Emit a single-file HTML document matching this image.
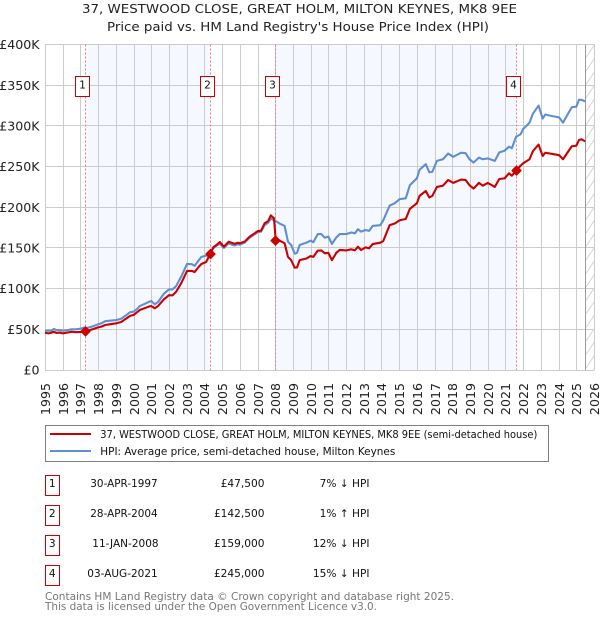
<!DOCTYPE html>
<html lang="en">
<head>
<meta charset="utf-8">
<title>37, Westwood Close price paid vs HPI</title>
<style>
html,body{margin:0;padding:0;background:#fff;}
svg{display:block;font-family:"DejaVu Sans","Liberation Sans",sans-serif;}
</style>
</head>
<body>
<svg id="chart" xmlns="http://www.w3.org/2000/svg" width="600" height="620" viewBox="0 0 600 620">
  <defs>
    <pattern id="hatch" patternUnits="userSpaceOnUse" width="9" height="13.5" patternTransform="translate(586,44)">
      <path d="M-1,15 L10,-1.5" stroke="#d4d4d4" stroke-width="1" fill="none"/>
    </pattern>
  </defs>
  <text x="299.5" y="13" text-anchor="middle" font-size="12.6" fill="#222" textLength="435" lengthAdjust="spacingAndGlyphs">37, WESTWOOD CLOSE, GREAT HOLM, MILTON KEYNES, MK8 9EE</text>
  <text x="298" y="31" text-anchor="middle" font-size="12.6" fill="#222" textLength="382" lengthAdjust="spacingAndGlyphs">Price paid vs. HM Land Registry's House Price Index (HPI)</text>
  <g id="bands"></g>
  <g id="grid"></g>
  <rect x="586" y="44.5" width="8.5" height="325.5" fill="url(#hatch)"/>
  <line x1="585.5" x2="585.5" y1="44.5" y2="370" stroke="#999" stroke-width="1"/>
  <g id="ylabels"></g>
  <g id="xlabels"></g>
  <g id="eventlines"></g>
  <g id="series"></g>
  <g id="markers"></g>
  <g id="eventboxes"></g>

  <g>
    <rect x="45.5" y="425.5" width="503" height="36" fill="#fff" stroke="#808080" stroke-width="1"/>
    <line x1="50" x2="91" y1="434" y2="434" stroke="#cc0000" stroke-width="2"/>
    <text x="100.3" y="438" font-size="11" fill="#111" textLength="437" lengthAdjust="spacingAndGlyphs">37, WESTWOOD CLOSE, GREAT HOLM, MILTON KEYNES, MK8 9EE (semi-detached house)</text>
    <line x1="50" x2="91" y1="451" y2="451" stroke="#5f8fd3" stroke-width="2"/>
    <text x="100.3" y="455" font-size="11" fill="#111" textLength="295" lengthAdjust="spacingAndGlyphs">HPI: Average price, semi-detached house, Milton Keynes</text>
  </g>

  <g font-size="10.6" fill="#111">
    <g>
      <rect x="45.5" y="475.5" width="14" height="20" fill="#fff" stroke="#cc0000" stroke-width="1"/>
      <text x="52.2" y="487" text-anchor="middle">1</text>
      <text x="90.3" y="487" textLength="67.4" lengthAdjust="spacingAndGlyphs">30-APR-1997</text>
      <text x="264.5" y="487" text-anchor="end">£47,500</text>
      <text x="369.5" y="487" text-anchor="end">7% ↓ HPI</text>
    </g>
    <g>
      <rect x="45.5" y="505.5" width="14" height="20" fill="#fff" stroke="#cc0000" stroke-width="1"/>
      <text x="52.2" y="517" text-anchor="middle">2</text>
      <text x="90.3" y="517" textLength="67.4" lengthAdjust="spacingAndGlyphs">28-APR-2004</text>
      <text x="264.5" y="517" text-anchor="end">£142,500</text>
      <text x="369.5" y="517" text-anchor="end">1% ↑ HPI</text>
    </g>
    <g>
      <rect x="45.5" y="535.5" width="14" height="20" fill="#fff" stroke="#cc0000" stroke-width="1"/>
      <text x="52.2" y="547" text-anchor="middle">3</text>
      <text x="92.3" y="547" textLength="66.3" lengthAdjust="spacingAndGlyphs">11-JAN-2008</text>
      <text x="264.5" y="547" text-anchor="end">£159,000</text>
      <text x="369.5" y="547" text-anchor="end">12% ↓ HPI</text>
    </g>
    <g>
      <rect x="45.5" y="565.5" width="14" height="20" fill="#fff" stroke="#cc0000" stroke-width="1"/>
      <text x="52.2" y="577" text-anchor="middle">4</text>
      <text x="87.3" y="577" textLength="70.4" lengthAdjust="spacingAndGlyphs">03-AUG-2021</text>
      <text x="264.5" y="577" text-anchor="end">£245,000</text>
      <text x="369.5" y="577" text-anchor="end">15% ↓ HPI</text>
    </g>
  </g>

  <text x="45" y="600" font-size="11" fill="#777" textLength="409" lengthAdjust="spacingAndGlyphs">Contains HM Land Registry data © Crown copyright and database right 2025.</text>
  <text x="45" y="610" font-size="11" fill="#777" textLength="332" lengthAdjust="spacingAndGlyphs">This data is licensed under the Open Government Licence v3.0.</text>
</svg>

<script>
const xTickYears = [1995,1996,1997,1998,1999,2000,2001,2002,2003,2004,2005,2006,2007,2008,2009,2010,2011,2012,2013,2014,2015,2016,2017,2018,2019,2020,2021,2022,2023,2024,2025,2026];
const yTickValues = [0,50,100,150,200,250,300,350,400];
const yTickLabels = ["£0","£50K","£100K","£150K","£200K","£250K","£300K","£350K","£400K"];

const hpiDates = [1995.0,1995.2,1995.35,1995.5,1995.65,1995.85,1996.0,1996.25,1996.5,1996.75,1997.05,1997.2,1997.33,1997.6,1998.0,1998.2,1998.4,1998.6,1999.03,1999.3,1999.6,1999.8,2000.0,2000.2,2000.35,2000.7,2000.85,2001.0,2001.2,2001.4,2001.72,2002.0,2002.2,2002.4,2002.7,2003.02,2003.3,2003.45,2003.65,2003.83,2004.1,2004.32,2004.47,2004.7,2004.87,2005.1,2005.37,2005.7,2005.9,2006.0,2006.27,2006.55,2007.02,2007.2,2007.4,2007.6,2007.75,2007.93,2008.03,2008.25,2008.53,2008.72,2008.9,2009.1,2009.23,2009.38,2009.76,2010.0,2010.15,2010.4,2010.6,2010.8,2011.0,2011.2,2011.45,2011.64,2012.0,2012.3,2012.5,2012.67,2012.85,2013.1,2013.3,2013.5,2013.93,2014.1,2014.46,2014.75,2015.03,2015.37,2015.6,2016.0,2016.15,2016.5,2016.7,2016.87,2017.13,2017.47,2017.76,2018.05,2018.5,2018.75,2018.97,2019.2,2019.5,2019.72,2020.0,2020.4,2020.65,2020.95,2021.2,2021.36,2021.6,2021.85,2022.0,2022.36,2022.55,2022.87,2023.1,2023.25,2023.65,2024.03,2024.25,2024.6,2024.75,2025.0,2025.15,2025.3,2025.5];
const hpiValues = [48,48.5,48,50.4,49,49,48.3,49,50,50,51,52,51.5,53,56,57.5,60,60.5,61.4,63,67.6,71,71.7,75,78.6,82,83.5,84.8,80.7,84,94,99,99,103,115,130.3,130,128,134,139,140.5,141,149,153,155,150,155.5,153,154.5,154,156.5,162.5,169.5,170,178,181,186,184,183,180,177,157.7,153.6,143,144,153.6,156.5,159,157,167,167,162.6,164,155,163,167,167,169,168,173,170,172,171,177,178,184,202,205,210,211,227,235.6,246,253,243,243.5,257,259,266,262,267,266.5,259,255,261,259,260,257,267.5,269.5,274.5,272.5,286.7,289.6,296,304,315,325,309,314,312,310.5,304,317.5,323,323.6,332,332,330];

const priceDates = [1995.0,1995.2,1995.35,1995.5,1995.65,1995.85,1996.0,1996.25,1996.5,1996.75,1997.05,1997.2,1997.33,1997.6,1998.0,1998.2,1998.4,1998.6,1999.03,1999.3,1999.6,1999.8,2000.0,2000.2,2000.35,2000.7,2000.85,2001.0,2001.2,2001.4,2001.72,2002.0,2002.2,2002.4,2002.7,2003.02,2003.3,2003.45,2003.65,2003.83,2004.1,2004.32,2004.5,2004.7,2004.87,2005.1,2005.37,2005.7,2005.9,2006.0,2006.27,2006.55,2007.02,2007.2,2007.4,2007.6,2007.75,2007.93,2008.03,2008.25,2008.53,2008.72,2008.9,2009.1,2009.23,2009.38,2009.76,2010.0,2010.15,2010.4,2010.6,2010.8,2011.0,2011.2,2011.45,2011.64,2012.0,2012.3,2012.5,2012.67,2012.85,2013.1,2013.3,2013.5,2013.93,2014.1,2014.46,2014.75,2015.03,2015.37,2015.6,2016.0,2016.15,2016.5,2016.7,2016.87,2017.13,2017.47,2017.76,2018.05,2018.5,2018.75,2018.97,2019.2,2019.5,2019.72,2020.0,2020.4,2020.65,2020.95,2021.2,2021.36,2021.6,2021.85,2022.0,2022.36,2022.55,2022.87,2023.1,2023.25,2023.65,2024.03,2024.25,2024.6,2024.75,2025.0,2025.15,2025.3,2025.5];
const priceValues = [45.8,45,45.8,46.8,45.6,46,45,46,47,46.5,46.8,47.8,47.5,49.5,52.4,53.5,55.3,56,57.4,59,63.5,66.5,67.6,71,73.7,76.6,77.8,78.6,75.8,79,87,92,91.7,96,107,121.7,121.7,120.4,126,130.3,132.7,142.5,150.7,154,157.3,151.5,157.7,155.2,156.4,155.7,157.7,163.8,170.8,171.2,180.3,183,190,186.4,159,159,155.7,139,135,125.8,126,135,137,140,139,146.7,147,143.4,144,135,144,147.5,147,148.3,147,151.5,147.5,150.7,149.5,154.8,156.5,158.5,178,180,184,185.6,198,205,214,220,212,214,225,226.5,233.5,230,234,233.5,227,223,230,226.5,230,225,234.7,235.5,241.7,238.8,245,251,254,259,269,277,263,267,265.5,264,259,270.4,275,275.7,282.6,283.5,281];

const saleDates = [1997.29,2004.32,2008.0,2021.6];
const salePrices = [47.5,142.5,159,245];
const saleLabels = ["1","2","3","4"];

const NS = "http://www.w3.org/2000/svg";
const plotTop = 44.5, plotBottom = 370, plotLeft = 45, plotRight = 594.5;
function xScale(t){ return 45 + 17.71 * (t - 1995); }
function yScale(v){ return 370 - 0.8137 * v; }
function make(tag, attrs, parent){
  const el = document.createElementNS(NS, tag);
  for (const k in attrs) el.setAttribute(k, attrs[k]);
  parent.appendChild(el);
  return el;
}
const eventX = saleDates.map(function(d){ return Math.floor(xScale(d)) + 0.5; });

const bandsG = document.getElementById("bands");
const bandStarts = [eventX[0], eventX[2]];
const bandEnds = [eventX[1], eventX[3]];
bandStarts.forEach(function(s, i){
  const band = make("rect", {x: s, y: plotTop, width: bandEnds[i] - s, height: plotBottom - plotTop, fill: "#f5f8ff"}, bandsG);
  
  
});

const gridG = document.getElementById("grid");
xTickYears.forEach(function(y){
  const px = Math.round(xScale(y)) + 0.5;
  const line = make("line", {x1: px, x2: px, y1: plotTop, y2: plotBottom, stroke: "#cccccc", "stroke-width": 1}, gridG);
  
  
});
yTickValues.forEach(function(v){
  const py = Math.round(yScale(v) - 0.5) + 0.5;
  const line = make("line", {x1: plotLeft, x2: plotRight, y1: py, y2: py, stroke: "#cccccc", "stroke-width": 1}, gridG);
  
  
});

const yLabelG = document.getElementById("ylabels");
yTickValues.forEach(function(v, i){
  const t = make("text", {x: 39.5, y: yScale(v) + 4.6, "text-anchor": "end", "font-size": 12.6, fill: "#222"}, yLabelG);
  t.textContent = yTickLabels[i];
  
  
});

const xLabelG = document.getElementById("xlabels");
xTickYears.forEach(function(y){
  const px = Math.round(xScale(y)) + 5;
  const t = make("text", {transform: "translate(" + px + ",383) rotate(-90)", "text-anchor": "end", "font-size": 12.6, fill: "#222"}, xLabelG);
  t.textContent = String(y);
  
  
});

const eventLineG = document.getElementById("eventlines");
eventX.forEach(function(px){
  const line = make("line", {x1: px, x2: px, y1: plotTop, y2: plotBottom, stroke: "#f07a80", "stroke-width": 1, "stroke-dasharray": "2,2"}, eventLineG);
  
  
});

function pathFrom(dates, values){
  return dates.map(function(d, i){
    return (i ? "L" : "M") + xScale(d).toFixed(2) + "," + yScale(values[i]).toFixed(2);
  }).join(" ");
}
const seriesG = document.getElementById("series");
const hpiLine = make("path", {d: pathFrom(hpiDates, hpiValues), fill: "none", stroke: "#5f8fd3", "stroke-width": 2.1, "stroke-linejoin": "round"}, seriesG);


const priceLine = make("path", {d: pathFrom(priceDates, priceValues), fill: "none", stroke: "#cc0000", "stroke-width": 2.1, "stroke-linejoin": "round"}, seriesG);



const markerG = document.getElementById("markers");
saleDates.forEach(function(d, i){
  const cx = eventX[i], cy = yScale(salePrices[i]), r = 4.4;
  const m = make("polygon", {points: [cx, cy - r, cx + r, cy, cx, cy + r, cx - r, cy].join(" "), fill: "#cc0000", stroke: "#cc0000", "stroke-width": 1.4, "stroke-linejoin": "round"}, markerG);
  
  
});

const boxG = document.getElementById("eventboxes");
saleLabels.forEach(function(label, i){
  const left = Math.floor(eventX[i]) - 10 + 0.5;
  const box = make("rect", {x: left, y: 76.5, width: 14, height: 20, fill: "#fff", stroke: "#cc0000", "stroke-width": 1}, boxG);
  
  
  const t = make("text", {x: left + 7, y: 88.5, "text-anchor": "middle", "font-size": 10.6, fill: "#111"}, boxG);
  t.textContent = label;
  
  
});
</script>
</body>
</html>
